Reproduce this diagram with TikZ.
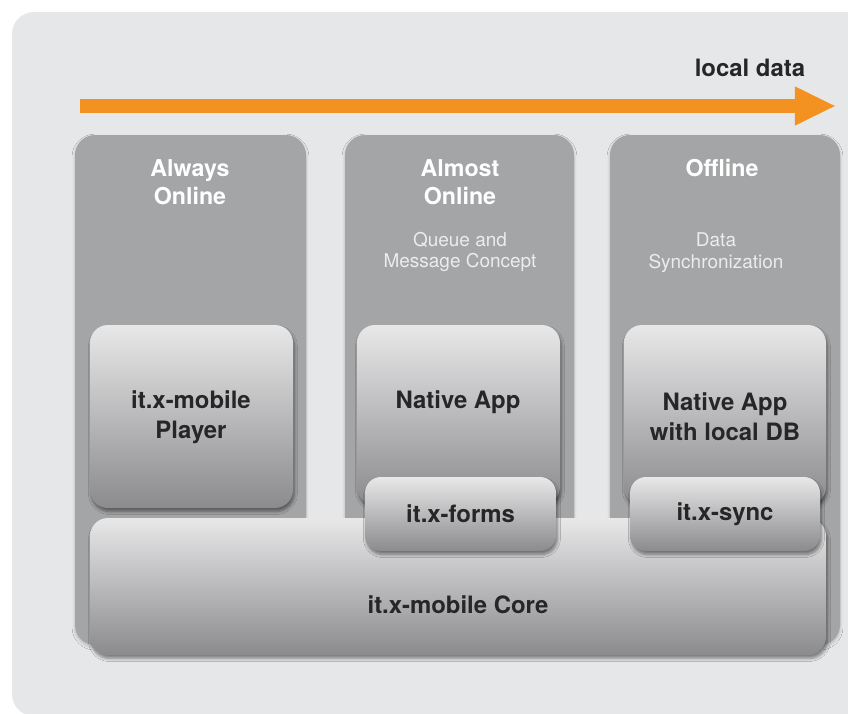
\documentclass[tikz,border=0pt]{standalone}
\usepackage{fontspec}
\setmainfont{TeX Gyre Heros}
\usetikzlibrary{arrows.meta,fit,shadows.blur}

\definecolor{bggray}{HTML}{E6E7E8}
\definecolor{colgray}{HTML}{A3A5A6}
\definecolor{boxtop}{HTML}{E8E8E9}
\definecolor{boxbot}{HTML}{8B8A8D}
\definecolor{dataorange}{HTML}{F39221}
\definecolor{inktext}{HTML}{262626}
\definecolor{subwhite}{HTML}{EBECEC}

\tikzset{
  column/.style={fill=colgray,rounded corners=0.5cm,inner sep=0pt,
    blur shadow={shadow xshift=0pt,shadow yshift=-1.5pt,shadow blur steps=6,shadow opacity=20}},
  layer/.style={top color=boxtop,bottom color=boxbot,rounded corners=0.45cm,inner sep=0pt,
    blur shadow={shadow xshift=1pt,shadow yshift=-2.5pt,shadow blur steps=6,shadow opacity=45}},
  title/.style={text=white,font=\fontsize{16.5}{20}\selectfont\bfseries,align=center},
  subtitle/.style={text=subwhite,font=\fontsize{13.5}{15.6}\selectfont,align=center},
  boxtext/.style={text=inktext,font=\fontsize{17}{21.3}\selectfont\bfseries,align=center},
  datarrow/.style={draw=dataorange,line width=0.35cm,-{Triangle[length=1.03cm,width=0.9cm]}}
}

\begin{document}
\begin{tikzpicture}[x=0.025cm,y=-0.025cm]
\useasboundingbox (0,0) rectangle (848,713);
\fill[white] (0,0) rectangle (848,713);
\fill[bggray,rounded corners=0.55cm] (12,12) rectangle (880,716);

% local data arrow
\coordinate (arrowstart) at (80,106);
\coordinate (arrowend) at (836,106);
\draw[datarrow] (arrowstart) -- (arrowend);
\node[boxtext] (localdata) at (750,68) {local data};

% three columns
\node[column,fit={(75,135) (306,645)}] (colA) {};
\node[column,fit={(345,135) (574,645)}] (colB) {};
\node[column,fit={(610,135) (840,645)}] (colC) {};
\node[title] (titleA) at (190,182) {Always\\Online};
\node[title] (titleB) at (460,182) {Almost\\Online};
\node[title] (titleC) at (722,168) {Offline};
\node[subtitle] (subB) at (460,252) {Queue and\\Message Concept};
\node[subtitle] (subC) at (716,253) {Data\\Synchronization};

% apps
\node[layer,fit={(90,325) (293,508)}] (player) {};
\node[layer,fit={(357,325) (560,505)}] (app) {};
\node[layer,fit={(624,325) (826,505)}] (appdb) {};
\node[boxtext] (playertext) at (191,417) {it.x-mobile\\Player};
\node[boxtext] (apptext) at (458,402) {Native App};
\node[boxtext] (appdbtext) at (725,417) {Native App\\with local DB};

% core and modules
\node[layer,fit={(90,518) (826,655)}] (core) {};
\node[boxtext] (coretext) at (458,605) {it.x-mobile Core};
\node[layer,rounded corners=0.4cm,fit={(365,477) (556,551)}] (forms) {};
\node[layer,rounded corners=0.4cm,fit={(630,477) (820,551)}] (sync) {};
\node[boxtext] (formstext) at (forms) {it.x-forms};
\node[boxtext] (synctext) at (sync) {it.x-sync};
\end{tikzpicture}
\end{document}
